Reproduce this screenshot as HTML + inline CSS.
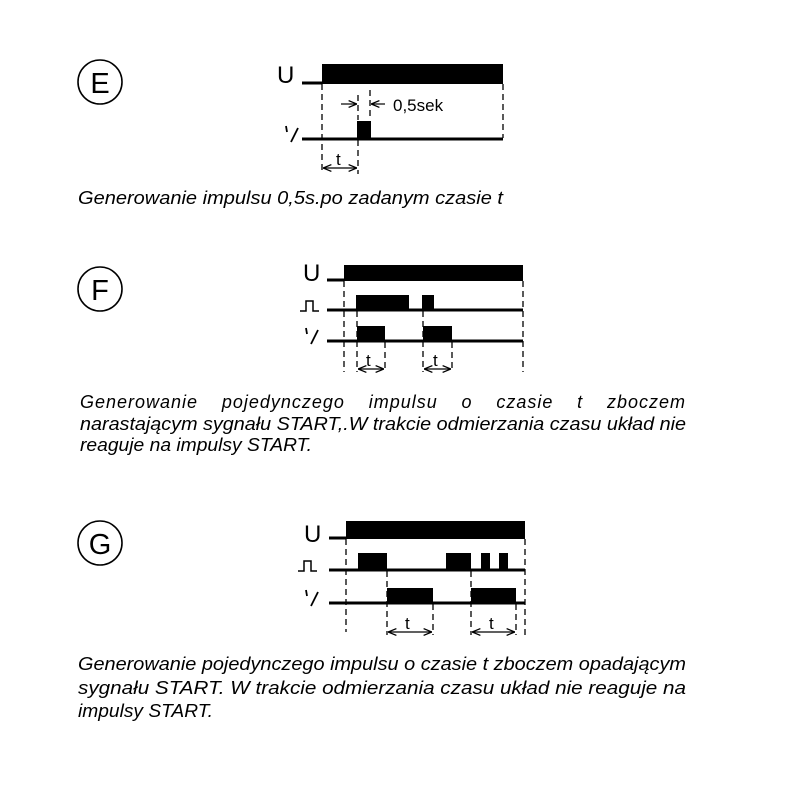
<!DOCTYPE html>
<html><head><meta charset="utf-8"><style>
html,body{margin:0;padding:0;background:#fff;}
svg{display:block;}
text{font-family:"Liberation Sans",sans-serif;fill:#000;}
.c{font-style:italic;font-size:18px;}
.j{position:absolute;left:80px;top:392px;width:606px;font-family:"Liberation Sans",sans-serif;font-style:italic;font-size:18px;line-height:20px;letter-spacing:1px;text-align:justify;text-align-last:justify;white-space:nowrap;}
</style></head><body>
<div class="j">Generowanie pojedynczego impulsu o czasie t zboczem</div>
<svg width="800" height="800" viewBox="0 0 800 800" xmlns="http://www.w3.org/2000/svg">
<defs>
<marker id="a" viewBox="0 0 10 10" refX="10" refY="5" markerWidth="7" markerHeight="7" orient="auto-start-reverse"><path d="M0,1 L10,5 L0,9" fill="none" stroke="#000" stroke-width="1.5"/></marker>
</defs>
<g fill="none" stroke="#000" stroke-width="1.6">
<circle cx="100" cy="82" r="22"/><circle cx="100" cy="289" r="22"/><circle cx="100" cy="543" r="22"/>
</g>
<text x="100" y="93" font-size="29" text-anchor="middle">E</text>
<text x="100" y="300" font-size="29" text-anchor="middle">F</text>
<text x="100" y="554" font-size="29" text-anchor="middle">G</text>

<!-- E -->
<text x="277" y="83" font-size="24">U</text>
<path d="M286,126 l1,6 M298,128 l-7,14" stroke="#000" stroke-width="1.8"/>
<line x1="302" y1="83" x2="322" y2="83" stroke="#000" stroke-width="3"/>
<rect x="322" y="64" width="181" height="20" fill="#000"/>
<line x1="302" y1="139" x2="503" y2="139" stroke="#000" stroke-width="3"/>
<rect x="357" y="121" width="14" height="18" fill="#000"/>
<g stroke="#000" stroke-width="1.3" stroke-dasharray="6,4" fill="none">
<line x1="322" y1="84" x2="322" y2="174"/><line x1="503" y1="84" x2="503" y2="138"/>
<line x1="358" y1="140" x2="358" y2="174"/>
<line x1="358" y1="95" x2="358" y2="120"/><line x1="370" y1="90" x2="370" y2="120"/>
</g>
<g stroke="#000" stroke-width="1.2">
<line x1="341" y1="104" x2="357" y2="104" marker-end="url(#a)"/>
<line x1="385" y1="104" x2="371" y2="104" marker-end="url(#a)"/>
<line x1="323" y1="168" x2="357" y2="168" marker-start="url(#a)" marker-end="url(#a)"/>
</g>
<text x="393" y="111" font-size="17">0,5sek</text>
<text x="336" y="165" font-size="17">t</text>
<text class="c" x="78" y="204" textLength="425" lengthAdjust="spacingAndGlyphs">Generowanie impulsu 0,5s.po zadanym czasie t</text>

<!-- F -->
<text x="303" y="281" font-size="24">U</text>
<path d="M306,328 l1,6 M318,330 l-7,14" stroke="#000" stroke-width="1.8"/>
<path d="M300,311 h6 v-10 h7 v10 h6" fill="none" stroke="#000" stroke-width="1.5"/>
<line x1="327" y1="280" x2="344" y2="280" stroke="#000" stroke-width="3"/>
<rect x="344" y="265" width="179" height="16" fill="#000"/>
<line x1="327" y1="310" x2="523" y2="310" stroke="#000" stroke-width="3"/>
<rect x="356" y="295" width="53" height="15" fill="#000"/>
<rect x="422" y="295" width="12" height="15" fill="#000"/>
<line x1="327" y1="341" x2="523" y2="341" stroke="#000" stroke-width="3"/>
<rect x="357" y="326" width="28" height="15" fill="#000"/>
<rect x="423" y="326" width="29" height="15" fill="#000"/>
<g stroke="#000" stroke-width="1.3" stroke-dasharray="6,4" fill="none">
<line x1="344" y1="281" x2="344" y2="372"/><line x1="523" y1="281" x2="523" y2="372"/>
<line x1="357" y1="311" x2="357" y2="372"/><line x1="385" y1="342" x2="385" y2="372"/>
<line x1="423" y1="311" x2="423" y2="372"/><line x1="452" y1="342" x2="452" y2="372"/>
</g>
<g stroke="#000" stroke-width="1.2">
<line x1="358" y1="369" x2="384" y2="369" marker-start="url(#a)" marker-end="url(#a)"/>
<line x1="424" y1="369" x2="451" y2="369" marker-start="url(#a)" marker-end="url(#a)"/>
</g>
<text x="366" y="366" font-size="17">t</text>
<text x="433" y="366" font-size="17">t</text>
<text class="c" x="80" y="430" textLength="606" lengthAdjust="spacingAndGlyphs">narastającym sygnału START,.W trakcie odmierzania czasu układ nie</text>
<text class="c" x="80" y="451" textLength="232" lengthAdjust="spacingAndGlyphs">reaguje na impulsy START.</text>

<!-- G -->
<text x="304" y="542" font-size="24">U</text>
<path d="M306,590 l1,6 M318,592 l-7,14" stroke="#000" stroke-width="1.8"/>
<path d="M298,571 h6 v-10 h7 v10 h6" fill="none" stroke="#000" stroke-width="1.5"/>
<line x1="329" y1="538" x2="346" y2="538" stroke="#000" stroke-width="3"/>
<rect x="346" y="521" width="179" height="18" fill="#000"/>
<line x1="329" y1="570" x2="525" y2="570" stroke="#000" stroke-width="3"/>
<rect x="358" y="553" width="29" height="17" fill="#000"/>
<rect x="446" y="553" width="25" height="17" fill="#000"/>
<rect x="481" y="553" width="9" height="17" fill="#000"/>
<rect x="499" y="553" width="9" height="17" fill="#000"/>
<line x1="329" y1="603" x2="525" y2="603" stroke="#000" stroke-width="3"/>
<rect x="387" y="588" width="46" height="15" fill="#000"/>
<rect x="471" y="588" width="45" height="15" fill="#000"/>
<g stroke="#000" stroke-width="1.3" stroke-dasharray="6,4" fill="none">
<line x1="346" y1="539" x2="346" y2="632"/><line x1="525" y1="539" x2="525" y2="635"/>
<line x1="387" y1="571" x2="387" y2="635"/><line x1="433" y1="604" x2="433" y2="635"/>
<line x1="471" y1="571" x2="471" y2="635"/><line x1="516" y1="604" x2="516" y2="635"/>
</g>
<g stroke="#000" stroke-width="1.2">
<line x1="388" y1="632" x2="432" y2="632" marker-start="url(#a)" marker-end="url(#a)"/>
<line x1="472" y1="632" x2="515" y2="632" marker-start="url(#a)" marker-end="url(#a)"/>
</g>
<text x="405" y="629" font-size="17">t</text>
<text x="489" y="629" font-size="17">t</text>
<text class="c" x="78" y="670" textLength="608" lengthAdjust="spacingAndGlyphs">Generowanie pojedynczego impulsu o czasie t zboczem opadającym</text>
<text class="c" x="78" y="694" textLength="608" lengthAdjust="spacingAndGlyphs">sygnału START. W trakcie odmierzania czasu układ nie reaguje na</text>
<text class="c" x="78" y="717" textLength="135" lengthAdjust="spacingAndGlyphs">impulsy START.</text>
</svg>
</body></html>
